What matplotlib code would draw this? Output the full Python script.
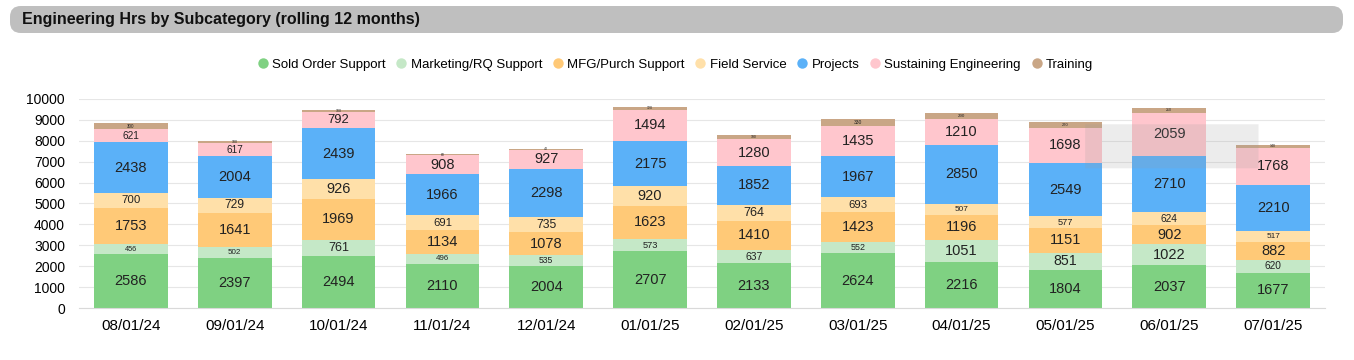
import numpy as np
import matplotlib
matplotlib.use("Agg")
import matplotlib.pyplot as plt
from matplotlib.patches import FancyBboxPatch
from matplotlib.lines import Line2D

plt.rcParams['font.family'] = ['Liberation Sans', 'DejaVu Sans']

months = ["08/01/24", "09/01/24", "10/01/24", "11/01/24", "12/01/24", "01/01/25",
          "02/01/25", "03/01/25", "04/01/25", "05/01/25", "06/01/25", "07/01/25"]

sold_order = [2586, 2397, 2494, 2110, 2004, 2707, 2133, 2624, 2216, 1804, 2037, 1677]
marketing = [456, 502, 761, 496, 535, 573, 637, 552, 1051, 851, 1022, 620]
mfg_purch = [1753, 1641, 1969, 1134, 1078, 1623, 1410, 1423, 1196, 1151, 902, 882]
field_service = [700, 729, 926, 691, 735, 920, 764, 693, 507, 577, 624, 517]
projects = [2438, 2004, 2439, 1966, 2298, 2175, 1852, 1967, 2850, 2549, 2710, 2210]
sustaining = [621, 617, 792, 908, 927, 1494, 1280, 1435, 1210, 1698, 2059, 1768]
training = [300, 100, 100, 60, 40, 120, 190, 330, 290, 270, 210, 140]

series = [
    ("Sold Order Support", sold_order, "#7fd182"),
    ("Marketing/RQ Support", marketing, "#c5e8c7"),
    ("MFG/Purch Support", mfg_purch, "#ffc977"),
    ("Field Service", field_service, "#ffe0a9"),
    ("Projects", projects, "#5bb1f8"),
    ("Sustaining Engineering", sustaining, "#ffc6cd"),
    ("Training", training, "#c9a686"),
]

fig = plt.figure(figsize=(13.54, 3.6), dpi=100)
fig.patch.set_facecolor("white")

# title bar
bar = FancyBboxPatch((10 / 1354, 1 - 33 / 360), 1333 / 1354, 27 / 360,
                     boxstyle="round,pad=0,rounding_size=0.008",
                     transform=fig.transFigure, facecolor="#bfbfbf",
                     edgecolor="none", mutation_aspect=3.76)
fig.patches.append(bar)
fig.text(22 / 1354, 1 - 19.5 / 360, "Engineering Hrs by Subcategory (rolling 12 months)",
         fontsize=11.5, fontweight="bold", va="center", ha="left", color="#111111")

ax = fig.add_axes([79 / 1354, 1 - 308 / 360, 1246 / 1354, 209 / 360])
x = np.arange(len(months))
bottom = np.zeros(len(months))
for name, vals, col in series:
    vals = np.array(vals, dtype=float)
    ax.bar(x, vals, 0.71, bottom=bottom, color=col, zorder=2)
    for xi, b, v in zip(x, bottom, vals):
        fs = float(np.clip(v / 80 - 0.5, 2.5, 10.5))
        ax.text(xi, b + v / 2, f"{int(v)}", ha="center", va="center",
                fontsize=fs, color="#222222", zorder=3)
    bottom += vals

ax.set_xlim(-0.5, len(months) - 0.5)
ax.set_ylim(0, 10000)
ax.set_yticks(np.arange(0, 10001, 1000))
ax.set_xticks(x)
ax.set_xticklabels(months, fontsize=11)
ax.tick_params(axis="y", labelsize=10, length=0, pad=10)
ax.tick_params(axis="x", length=0, pad=8)
ax.grid(axis="y", color="#e6e6e6", linewidth=0.8, zorder=0)
for s in ["top", "right", "left"]:
    ax.spines[s].set_visible(False)
ax.spines["bottom"].set_color("#d9d9d9")

# faint tooltip ghost left over in the screenshot
ghost = FancyBboxPatch((9.19, 6685), 1.67, 2105,
                       boxstyle="round,pad=0,rounding_size=0.05",
                       facecolor="#9a9a9a", alpha=0.18, edgecolor="none", zorder=4)
ax.add_patch(ghost)

handles = [Line2D([0], [0], marker="o", linestyle="", markersize=7.5,
                  markerfacecolor=c, markeredgecolor="none") for _, _, c in series]
fig.legend(handles, [n for n, _, _ in series], loc="center",
           bbox_to_anchor=(676 / 1354, 1 - 65 / 360), ncol=len(series),
           frameon=False, fontsize=9.5, handlelength=0.6, handletextpad=0.4,
           columnspacing=0.9)

fig.savefig("out.png", dpi=100)
